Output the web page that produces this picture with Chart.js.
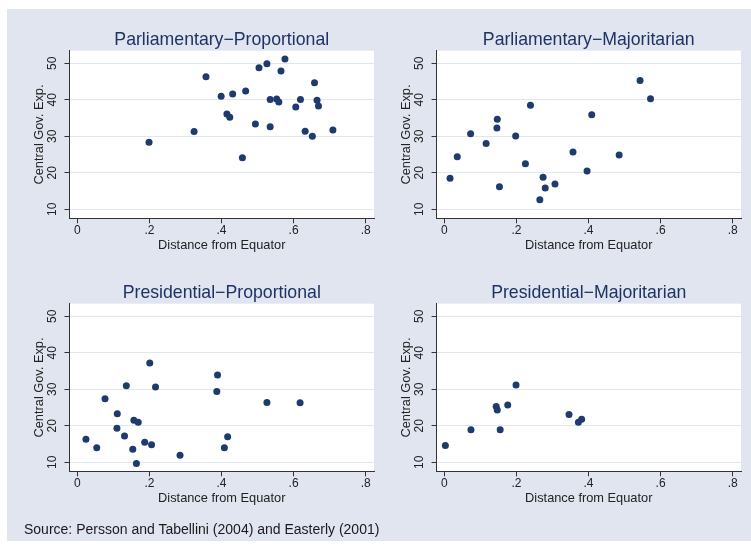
<!DOCTYPE html>
<html>
<head>
<meta charset="utf-8">
<script src="https://cdn.jsdelivr.net/npm/chart.js@4.4.1/dist/chart.umd.min.js"></script>
<style>
  body { margin: 0; width: 751px; height: 549px; background: #fff; position: relative; overflow: hidden;
         font-family: "Liberation Sans", Arial, sans-serif; }
  #bg { position: absolute; left: 7px; top: 9px; width: 744px; height: 532px; background: #e0e5f0; }
  canvas { position: absolute; }
  #note { position: absolute; left: 24px; top: 521px; font-size: 14px; color: #1a1a1a; white-space: nowrap; }
</style>
</head>
<body>
<div id="bg"></div>
<canvas id="c1" width="364" height="250" style="left:20px;top:20px"></canvas>
<canvas id="c2" width="364" height="250" style="left:387px;top:20px"></canvas>
<canvas id="c3" width="364" height="250" style="left:20px;top:273px"></canvas>
<canvas id="c4" width="364" height="250" style="left:387px;top:273px"></canvas>
<div id="note">Source: Persson and Tabellini (2004) and Easterly (2001)</div>
<script>
// panel titles
var panelTitles = ['Parliamentary\u2212Proportional', 'Parliamentary\u2212Majoritarian',
                   'Presidential\u2212Proportional', 'Presidential\u2212Majoritarian'];

// distance from equator (x) and central gov. expenditure (y)
var parlPropX = [0.199, 0.324, 0.357, 0.399, 0.431, 0.415, 0.423, 0.467, 0.458, 0.494, 0.504, 0.526, 0.535,
                 0.535, 0.553, 0.559, 0.565, 0.576, 0.606, 0.619, 0.632, 0.652, 0.658, 0.665, 0.669, 0.709];
var parlPropY = [28.4, 31.3, 46.3, 41.0, 41.6, 36.1, 35.2, 42.4, 24.1, 33.4, 48.8, 49.9, 40.1,
                 32.6, 40.2, 39.4, 47.9, 51.2, 38.0, 40.1, 31.4, 30.0, 44.7, 39.9, 38.3, 31.7];

var parlMajX = [0.016, 0.036, 0.073, 0.116, 0.147, 0.146, 0.153, 0.198, 0.225, 0.239,
                0.274, 0.280, 0.265, 0.307, 0.357, 0.396, 0.409, 0.485, 0.543, 0.572];
var parlMajY = [18.5, 24.4, 30.7, 28.0, 34.7, 32.3, 16.2, 30.1, 22.5, 38.5,
                18.8, 15.8, 12.6, 16.9, 25.7, 20.5, 35.9, 24.9, 45.3, 40.3];

var presPropX = [0.024, 0.054, 0.077, 0.111, 0.110, 0.136, 0.131, 0.154, 0.157, 0.169, 0.164,
                 0.187, 0.201, 0.206, 0.217, 0.285, 0.387, 0.389, 0.408, 0.417, 0.526, 0.618];
var presPropY = [16.3, 14.0, 27.4, 23.3, 19.3, 31.0, 17.2, 13.6, 21.5, 21.0, 9.7,
                 15.5, 37.2, 14.8, 30.6, 11.9, 29.4, 33.9, 14.0, 17.0, 26.4, 26.3];

var presMajX = [0.003, 0.074, 0.144, 0.147, 0.155, 0.176, 0.199, 0.346, 0.372, 0.381];
var presMajY = [14.6, 18.9, 25.3, 24.3, 18.9, 25.7, 31.2, 23.1, 21.0, 21.8];

// axis ticks
var xTicks = [0, 0.2, 0.4, 0.6, 0.8];
var xTickLabels = ['0', '.2', '.4', '.6', '.8'];
var yTicks = [10, 20, 30, 40, 50];
var yTickLabels = ['10', '20', '30', '40', '50'];

var fontFamily = '"Liberation Sans", Arial, sans-serif';
Chart.defaults.font.family = fontFamily;

var navy = '#1f3a6c';
var ink = '#222222';

// white plot region + panel title centred over the plot
var plotStyle = {
	id: 'plotStyle',
	beforeDraw: function(chart) {
		var a = chart.chartArea, ctx = chart.ctx;
		ctx.save();
		ctx.fillStyle = '#ffffff';
		ctx.fillRect(a.left, a.top, a.right - a.left, a.bottom - a.top);
		ctx.restore();
	},
	afterDraw: function(chart, args, opts) {
		var a = chart.chartArea, ctx = chart.ctx;
		ctx.save();
		ctx.font = '17.7px ' + fontFamily;
		ctx.fillStyle = '#1e3264';
		ctx.textAlign = 'center';
		ctx.textBaseline = 'alphabetic';
		ctx.fillText(opts.text, (a.left + a.right) / 2, a.top - 5.7);
		ctx.restore();
	}
};

function makePanel(id, title, xs, ys) {
	var pts = xs.map(function(x, i) { return {x: x, y: ys[i]}; });
	new Chart(document.getElementById(id), {
		type: 'scatter',
		data: {
			datasets: [{
				data: pts,
				backgroundColor: navy,
				borderWidth: 0,
				pointRadius: 3.5,
				pointHoverRadius: 3.5
			}]
		},
		options: {
			responsive: false,
			animation: false,
			devicePixelRatio: 1,
			layout: { padding: { top: 30.7, left: 0, right: 10, bottom: 17.3 } },
			plugins: {
				legend: { display: false },
				tooltip: { enabled: false },
				plotStyle: { text: title }
			},
			scales: {
				x: {
					type: 'linear',
					min: -0.0216,
					max: 0.823,
					afterBuildTicks: function(s) { s.ticks = xTicks.map(function(v) { return {value: v}; }); },
					afterFit: function(s) { s.height = 34.4; },
					ticks: {
						autoSkip: false, minRotation: 0, maxRotation: 0, padding: 0,
						color: ink, font: { size: 12 },
						callback: function(v) { return xTickLabels[xTicks.indexOf(v)]; }
					},
					grid: { drawOnChartArea: false, drawTicks: true, tickLength: 5, tickColor: '#333333' },
					border: { display: true, color: '#333333', width: 1 },
					title: { display: true, text: 'Distance from Equator', color: ink,
					         font: { size: 12.8 }, padding: { top: 0, bottom: 0 } }
				},
				y: {
					type: 'linear',
					min: 7.53,
					max: 53.45,
					afterBuildTicks: function(s) { s.ticks = yTicks.map(function(v) { return {value: v}; }); },
					afterFit: function(s) { s.width = 49.5; },
					ticks: {
						autoSkip: false, minRotation: 90, maxRotation: 90, crossAlign: 'center', padding: 5,
						color: ink, font: { size: 12 },
						callback: function(v) { return yTickLabels[yTicks.indexOf(v)]; }
					},
					grid: { color: '#e1e6ef', lineWidth: 1, drawTicks: true, tickLength: 5, tickColor: '#333333' },
					border: { display: true, color: '#333333', width: 1 },
					title: { display: true, text: 'Central Gov. Exp.', color: ink,
					         font: { size: 12.8 }, padding: { top: 12.2, bottom: 0 } }
				}
			}
		},
		plugins: [plotStyle]
	});
}

makePanel('c1', panelTitles[0], parlPropX, parlPropY);
makePanel('c2', panelTitles[1], parlMajX, parlMajY);
makePanel('c3', panelTitles[2], presPropX, presPropY);
makePanel('c4', panelTitles[3], presMajX, presMajY);
</script>
</body>
</html>
